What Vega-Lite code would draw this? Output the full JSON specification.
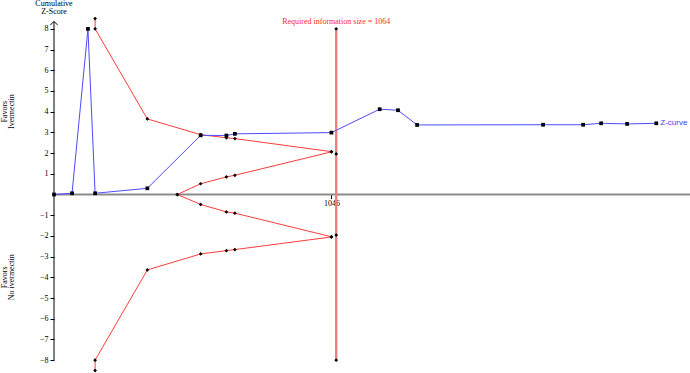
{
  "$schema": "https://vega.github.io/schema/vega-lite/v6.json",
  "width": 636,
  "height": 352,
  "autosize": "none",
  "padding": {"left": 54, "top": 21, "right": 0, "bottom": 0},
  "background": "white",
  "config": {"view": {"stroke": null}, "font": "Liberation Serif", "axis": {"labelOverlap": false}},
  "datasets": {
    "zc": [
      {"n": 0, "z": 0}, {"n": 68, "z": 0.06}, {"n": 128, "z": 8}, {"n": 155, "z": 0.06},
      {"n": 352, "z": 0.3}, {"n": 553, "z": 2.86}, {"n": 650, "z": 2.85}, {"n": 682, "z": 2.93},
      {"n": 1046, "z": 2.99}, {"n": 1228, "z": 4.12}, {"n": 1297, "z": 4.07}, {"n": 1369, "z": 3.36},
      {"n": 1844, "z": 3.37}, {"n": 1995, "z": 3.37}, {"n": 2063, "z": 3.44}, {"n": 2161, "z": 3.41},
      {"n": 2271, "z": 3.44}
    ],
    "bd": [
      {"s": "upper", "k": 1, "n": 155, "z": 8.5}, {"s": "upper", "k": 2, "n": 155, "z": 8},
      {"s": "upper", "k": 3, "n": 352, "z": 3.65}, {"s": "upper", "k": 4, "n": 553, "z": 2.89},
      {"s": "upper", "k": 5, "n": 650, "z": 2.74}, {"s": "upper", "k": 6, "n": 682, "z": 2.7},
      {"s": "upper", "k": 7, "n": 1046, "z": 2.07},
      {"s": "lower", "k": 1, "n": 155, "z": -8.5}, {"s": "lower", "k": 2, "n": 155, "z": -8},
      {"s": "lower", "k": 3, "n": 352, "z": -3.64}, {"s": "lower", "k": 4, "n": 553, "z": -2.87},
      {"s": "lower", "k": 5, "n": 650, "z": -2.71}, {"s": "lower", "k": 6, "n": 682, "z": -2.66},
      {"s": "lower", "k": 7, "n": 1046, "z": -2.05},
      {"s": "iu", "k": 1, "n": 465, "z": 0}, {"s": "iu", "k": 2, "n": 553, "z": 0.52},
      {"s": "iu", "k": 3, "n": 650, "z": 0.85}, {"s": "iu", "k": 4, "n": 682, "z": 0.93},
      {"s": "iu", "k": 5, "n": 1046, "z": 2.06},
      {"s": "il", "k": 1, "n": 465, "z": 0}, {"s": "il", "k": 2, "n": 553, "z": -0.48},
      {"s": "il", "k": 3, "n": 650, "z": -0.84}, {"s": "il", "k": 4, "n": 682, "z": -0.9},
      {"s": "il", "k": 5, "n": 1046, "z": -2.04}
    ],
    "ris": [{"n": 1064, "z": -8, "z2": 8, "label": "Required information size = 1064"}],
    "rism": [{"n": 1064, "z": 8}, {"n": 1064, "z": -8}, {"n": 1064, "z": 1.96}, {"n": 1064, "z": -1.96}],
    "one": [{}]
  },
  "layer": [
    {
      "data": {"name": "ris"},
      "mark": {"type": "rule", "color": "#f27c7c", "strokeWidth": 2},
      "encoding": {
        "x": {
          "field": "n", "type": "quantitative",
          "scale": {"domain": [0, 2398], "nice": false, "zero": false},
          "axis": {
            "values": [1046], "format": "d", "domain": false, "grid": false, "tickSize": 4, "tickColor": "black",
            "labelFontSize": 8, "labelFont": "Liberation Serif", "labelColor": "black",
            "labelPadding": 1, "offset": -178.5, "title": null, "labelOverlap": false, "tickCount": 20
          }
        },
        "y": {
          "field": "z", "type": "quantitative",
          "scale": {"domain": [-8.62, 8.38], "nice": false, "zero": false},
          "axis": {
            "values": [-8, -7, -6, -5, -4, -3, -2, -1, 1, 2, 3, 4, 5, 6, 7, 8],
            "format": "d",
            "tickCount": 40,
            "domain": false, "grid": false, "tickSize": 4, "tickColor": "black",
            "labelFontSize": 8, "labelFont": "Liberation Serif", "labelColor": "black",
            "labelPadding": 2, "labelOverlap": false, "labelBound": false, "labelFlush": false, "title": null
          }
        },
        "y2": {"field": "z2"}
      }
    },
    {
      "data": {"name": "one"},
      "mark": {"type": "rule", "color": "#8c8c8c", "strokeWidth": 2},
      "encoding": {
        "y": {"datum": 0, "type": "quantitative"}
      }
    },
    {
      "data": {"name": "ris"},
      "mark": {"type": "rule", "color": "#f27c7c", "strokeWidth": 2},
      "encoding": {
        "x": {"field": "n", "type": "quantitative"},
        "y": {"field": "z", "type": "quantitative"},
        "y2": {"field": "z2"}
      }
    },
    {
      "data": {"name": "ris"},
      "mark": {"type": "text", "color": "#ff2a2a", "fontSize": 8, "font": "Liberation Serif", "align": "center", "baseline": "middle", "dy": -6.5},
      "encoding": {
        "x": {"field": "n", "type": "quantitative"},
        "y": {"field": "z2", "type": "quantitative"},
        "text": {"field": "label"}
      }
    },
    {
      "data": {"name": "one"},
      "mark": {"type": "rule", "color": "black", "strokeWidth": 1},
      "encoding": {
        "x": {"datum": 0, "type": "quantitative"},
        "y": {"datum": -8, "type": "quantitative"},
        "y2": {"datum": 8.36}
      }
    },
    {
      "data": {"name": "one"},
      "mark": {"type": "point", "shape": "M -1 1 L 0 0 L 1 1", "filled": false, "stroke": "black", "strokeWidth": 1, "size": 49, "opacity": 1},
      "encoding": {
        "x": {"datum": 0, "type": "quantitative"},
        "y": {"datum": 8.36, "type": "quantitative"}
      }
    },
    {
      "data": {"name": "bd"},
      "mark": {"type": "line", "color": "#ff3c3c", "strokeWidth": 1},
      "encoding": {
        "x": {"field": "n", "type": "quantitative"},
        "y": {"field": "z", "type": "quantitative"},
        "detail": {"field": "s"},
        "order": {"field": "k"}
      }
    },
    {
      "data": {"name": "zc"},
      "mark": {"type": "line", "color": "#4b4bff", "strokeWidth": 1},
      "encoding": {
        "x": {"field": "n", "type": "quantitative"},
        "y": {"field": "z", "type": "quantitative"}
      }
    },
    {
      "data": {"name": "bd"},
      "mark": {"type": "point", "shape": "diamond", "filled": true, "color": "black", "size": 14, "opacity": 1},
      "encoding": {
        "x": {"field": "n", "type": "quantitative"},
        "y": {"field": "z", "type": "quantitative"}
      }
    },
    {
      "data": {"name": "rism"},
      "mark": {"type": "point", "shape": "diamond", "filled": true, "color": "black", "size": 14, "opacity": 1},
      "encoding": {
        "x": {"field": "n", "type": "quantitative"},
        "y": {"field": "z", "type": "quantitative"}
      }
    },
    {
      "data": {"name": "zc"},
      "mark": {"type": "point", "shape": "square", "filled": true, "color": "black", "size": 14, "opacity": 1},
      "encoding": {
        "x": {"field": "n", "type": "quantitative"},
        "y": {"field": "z", "type": "quantitative"}
      }
    },
    {
      "data": {"name": "zc"},
      "transform": [{"filter": "datum.n == 2271"}],
      "mark": {"type": "text", "color": "#3c3cff", "fontSize": 8, "font": "Liberation Sans", "align": "left", "baseline": "middle", "dx": 4},
      "encoding": {
        "x": {"field": "n", "type": "quantitative"},
        "y": {"field": "z", "type": "quantitative"},
        "text": {"value": "Z-curve"}
      }
    },
    {
      "data": {"name": "one"},
      "mark": {"type": "text", "color": "black", "fontSize": 8, "font": "Liberation Serif", "align": "center", "baseline": "middle", "lineHeight": 8},
      "encoding": {
        "x": {"datum": 0, "type": "quantitative"},
        "y": {"datum": 9.19, "type": "quantitative"},
        "text": {"value": ["Cumulative", "Z-Score"]}
      }
    },
    {
      "data": {"name": "one"},
      "mark": {"type": "text", "color": "black", "fontSize": 8, "font": "Liberation Serif", "align": "center", "baseline": "middle", "angle": 270, "lineHeight": 7.5},
      "encoding": {
        "x": {"datum": -185, "type": "quantitative"},
        "y": {"datum": 4, "type": "quantitative"},
        "text": {"value": ["Favors", "Ivermectin"]}
      }
    },
    {
      "data": {"name": "one"},
      "mark": {"type": "text", "color": "black", "fontSize": 8, "font": "Liberation Serif", "align": "center", "baseline": "middle", "angle": 270, "lineHeight": 7.5},
      "encoding": {
        "x": {"datum": -185, "type": "quantitative"},
        "y": {"datum": -4, "type": "quantitative"},
        "text": {"value": ["Favors", "No ivermectin"]}
      }
    }
  ]
}
